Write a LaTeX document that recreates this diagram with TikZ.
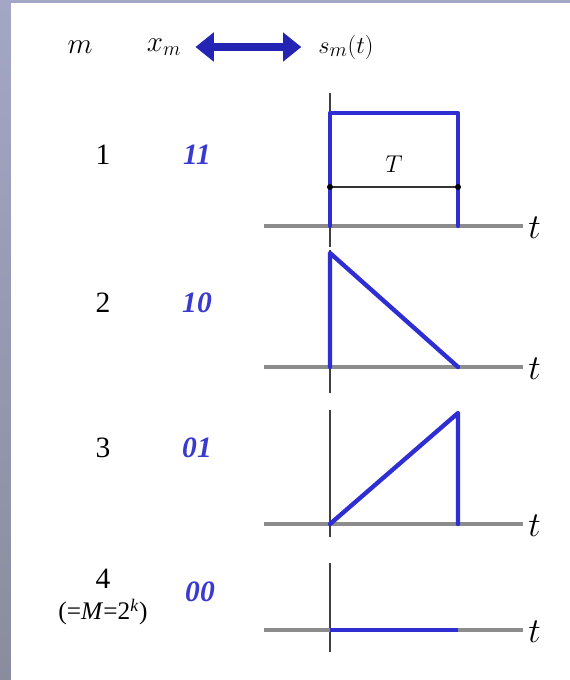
\documentclass[tikz,border=0pt]{standalone}
\usepackage{fontspec}
\usepackage{amsmath}
\usepackage{tikz}
\usetikzlibrary{arrows.meta,positioning,calc}
\newfontfamily\timesfont{Liberation Serif}
\definecolor{slate}{HTML}{A4A6C6}
\definecolor{slatedark}{HTML}{8A8C9E}
\definecolor{codeblue}{HTML}{3A3AD0}
\definecolor{sigblue}{HTML}{2E2ED2}
\definecolor{arrowblue}{HTML}{2424B4}
\definecolor{axisgray}{HTML}{8C8C8C}

\begin{document}
\begin{tikzpicture}[
  x=0.025cm, y=-0.025cm,
  hdr/.style={font=\fontsize{21}{25}\selectfont,inner sep=0pt},
  num/.style={font=\timesfont\fontsize{21}{24}\selectfont,inner sep=0pt},
  code/.style={font=\timesfont\bfseries\itshape\fontsize{21}{24}\selectfont,text=codeblue,inner sep=0pt},
  tlab/.style={font=\fontsize{30}{33}\selectfont,inner sep=0pt},
  base/.style={draw=axisgray,line width=2.5pt},
  yaxis/.style={draw=black!75,line width=1pt},
  sig/.style={draw=sigblue,line width=3.1pt,line cap=round,line join=round},
  dual/.style={draw=arrowblue,line width=5.5pt,
    {Triangle[length=13pt,width=20pt]}-{Triangle[length=13pt,width=20pt]}}]
  % slide background and white panel
  \fill[top color=slate,bottom color=slatedark] (0,0) rectangle (570,680);
  \fill[white] (11,3) rectangle (570,680);
  \useasboundingbox (0,0) rectangle (570,680);

  % header row
  \node[hdr] (hm) at (80,47) {$m$};
  \node[hdr] (hx) at (164,47) {$x_m$};
  \node[hdr,font=\fontsize{19}{22}\selectfont] (hs) at (346,47) {$s_m(t)$};
  \draw[dual] ([xshift=10pt]hx.east) -- ([xshift=-12pt]hs.west);

  % m and x_m columns
  \node[num] (m1) at (103,155) {1};
  \node[num] (m2) at (103,303) {2};
  \node[num] (m3) at (103,448) {3};
  \node[num] (m4) at (103,579) {4};
  \node[num,font=\timesfont\fontsize{18}{21}\selectfont] (mM) at (103,612)
    {(=\textit{M}=2\textsuperscript{\textit{k}})};
  \node[code] (x1) at (197,155) {11};
  \node[code] (x2) at (197,303) {10};
  \node[code] (x3) at (197,448) {01};
  \node[code] (x4) at (200,592) {00};

  % axes of the four signals
  \foreach \k/\y/\top/\bot in {1/226/93/247,2/367/250/393,3/524/410/537,4/630/563/652}{
    \coordinate (o\k) at (330,\y);
    \coordinate (e\k) at (458,\y);
    \draw[yaxis] (330,\top) -- (330,\bot);
    \draw[base] (264,\y) -- (523,\y);
    \node[tlab,anchor=west] (t\k) at (528,\y+2) {$t$};
  }

  % s_1(t): rectangular pulse
  \coordinate (a1) at (330,113);
  \coordinate (b1) at (458,113);
  \draw[sig] (o1) -- (a1) -- (b1) -- (e1);
  \coordinate (d1) at (330,187);
  \coordinate (d2) at (458,187);
  \draw[black!80,line width=1pt] (d1) -- (d2);
  \fill[black] (d1) circle (3) (d2) circle (3);
  \node[hdr,font=\fontsize{18}{21}\selectfont] (T) at (394,164) {$T$};

  % s_2(t): falling ramp
  \coordinate (a2) at (330,253);
  \draw[sig] (o2) -- (a2) -- (e2);

  % s_3(t): rising ramp
  \coordinate (b3) at (458,413);
  \draw[sig] (o3) -- (b3) -- (e3);

  % s_4(t): zero
  \draw[sig,line cap=butt] (o4) -- (e4);
\end{tikzpicture}
\end{document}
